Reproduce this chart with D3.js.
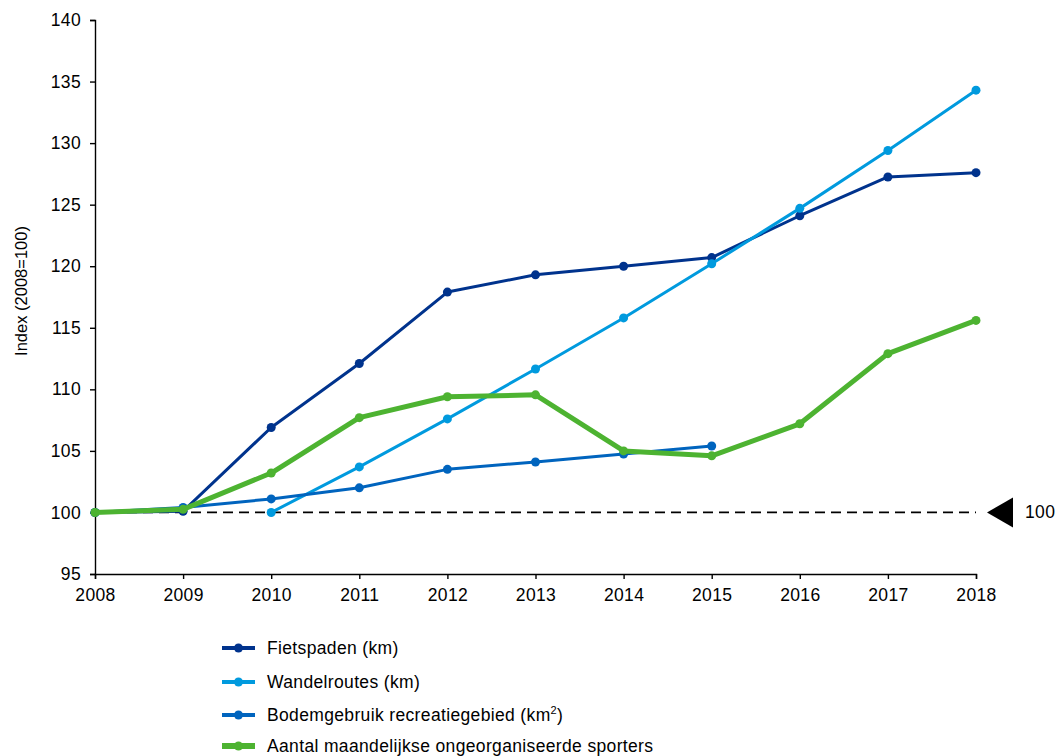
<!DOCTYPE html>
<html><head><meta charset="utf-8">
<script src="https://cdn.jsdelivr.net/npm/d3@7"></script>
<style>body{margin:0;background:#fff;}svg{display:block;font-family:"Liberation Sans",Arial,sans-serif;}</style>
</head><body><svg id="c" width="1058" height="756"></svg>
<script>
const years = [2008,2009,2010,2011,2012,2013,2014,2015,2016,2017,2018];
const fietspaden = [100,100.1,106.9,112.1,117.9,119.3,120.0,120.7,124.1,127.25,127.6];
const wandelroutes = [null,null,100,103.7,107.6,111.65,115.8,120.2,124.7,129.4,134.3];
const bodemgebruik = [100,100.4,101.1,102.0,103.5,104.1,104.75,105.4,null,null,null];
const sporters = [100,100.25,103.2,107.7,109.4,109.55,105.0,104.6,107.2,112.9,115.6];
const yTicks = [95,100,105,110,115,120,125,130,135,140];
const series = [
  {name:"Fietspaden (km)", values:fietspaden, color:"#00338D", w:3},
  {name:"Wandelroutes (km)", values:wandelroutes, color:"#009ADE", w:3},
  {name:"Bodemgebruik recreatiegebied (km²)", values:bodemgebruik, color:"#0064BE", w:3, sup:true},
  {name:"Aantal maandelijkse ongeorganiseerde sporters", values:sporters, color:"#4DB331", w:5}
];
const FS = 17.5;
const LS = 0.35;
const svg = d3.select("#c");
const x = d3.scaleLinear().domain([2008,2018]).range([95,976]);
const y = d3.scaleLinear().domain([95,140]).range([574,20]);

// axes
svg.append("g").attr("transform","translate(95,0)")
  .call(d3.axisLeft(y).tickValues(yTicks).tickSize(5).tickPadding(9).tickFormat(d3.format("d")))
  .call(g=>{g.attr("font-size",FS).attr("font-family","Liberation Sans, Arial");g.selectAll("text").attr("fill","#000").attr("letter-spacing",LS);g.selectAll("line,path").attr("stroke","#000").attr("stroke-width",1.4);});
svg.append("g").attr("transform","translate(0,574)")
  .call(d3.axisBottom(x).tickValues(years).tickSize(5).tickPadding(10).tickFormat(d3.format("d")))
  .call(g=>{g.attr("font-size",FS).attr("font-family","Liberation Sans, Arial");g.selectAll("text").attr("fill","#000").attr("letter-spacing",LS);g.selectAll("line,path").attr("stroke","#000").attr("stroke-width",1.4);});

svg.append("text").attr("transform","translate(27,291) rotate(-90)").attr("text-anchor","middle")
  .attr("font-size",16.5).text("Index (2008=100)");

// reference line
svg.append("line").attr("x1",x(2008)).attr("x2",x(2018)).attr("y1",y(100)).attr("y2",y(100))
  .attr("stroke","#000").attr("stroke-width",1.8).attr("stroke-dasharray","10,6");
const ty = y(100);
svg.append("path").attr("d",`M987,${ty} L1013,${ty-15} L1013,${ty+15} Z`).attr("fill","#000");
svg.append("text").attr("x",1025).attr("y",ty+6).attr("font-size",FS).attr("letter-spacing",LS).text("100");

const line = d3.line().defined(d=>d[1]!=null).x(d=>x(d[0])).y(d=>y(d[1]));
series.forEach(s=>{
  const pts = years.map((yr,i)=>[yr,s.values[i]]);
  svg.append("path").datum(pts).attr("d",line).attr("fill","none")
    .attr("stroke",s.color).attr("stroke-width",s.w).attr("stroke-linejoin","round");
  svg.selectAll(null).data(pts.filter(d=>d[1]!=null)).enter().append("circle")
    .attr("cx",d=>x(d[0])).attr("cy",d=>y(d[1])).attr("r",4.5).attr("fill",s.color);
});

// legend
const ly = [648,682,715,746];
series.forEach((s,i)=>{
  const g = svg.append("g");
  g.append("line").attr("x1",222).attr("x2",255).attr("y1",ly[i]).attr("y2",ly[i])
    .attr("stroke",s.color).attr("stroke-width",s.w+1);
  g.append("circle").attr("cx",238.5).attr("cy",ly[i]).attr("r",4.5).attr("fill",s.color);
  const t = g.append("text").attr("x",267).attr("y",ly[i]+6).attr("font-size",FS).attr("letter-spacing",LS);
  if(s.sup){
    t.append("tspan").text("Bodemgebruik recreatiegebied (km");
    t.append("tspan").attr("dy",-7).attr("font-size",11).text("2");
    t.append("tspan").attr("dy",7).text(")");
  } else t.text(s.name);
});
</script></body></html>
